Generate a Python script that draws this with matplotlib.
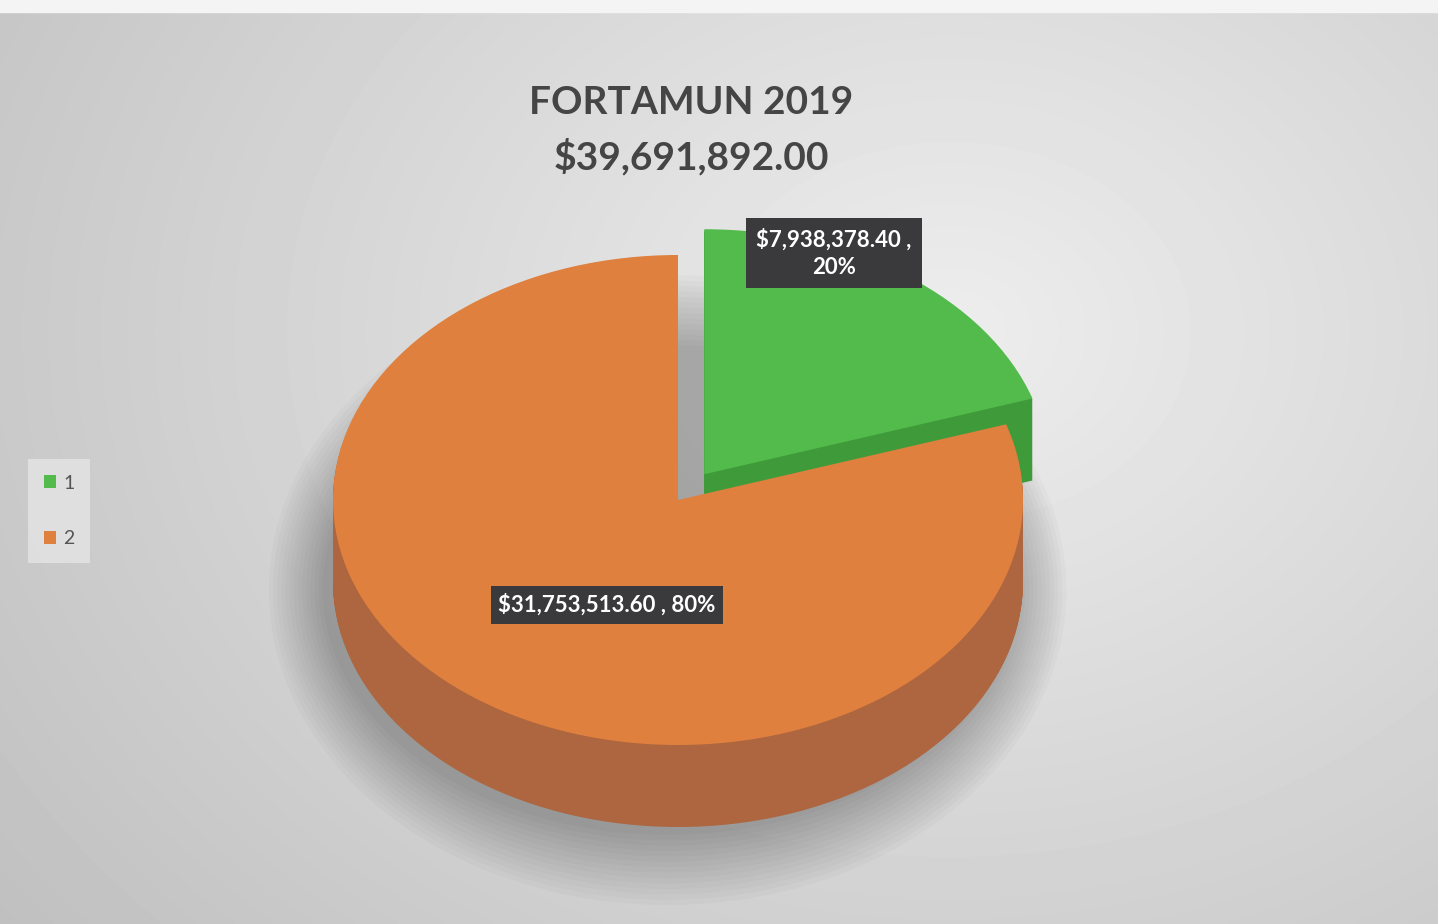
import numpy as np
import matplotlib.pyplot as plt
from matplotlib.patches import Ellipse

# ---- data ----
title_lines = ["FORTAMUN 2019", "$39,691,892.00"]
categories = ["1", "2"]
values = [7938378.40, 31753513.60]
value_labels = ["$7,938,378.40 ,\n20%", "$31,753,513.60 , 80%"]

top_colors = ["#52bb4c", "#df803e"]
side_colors = ["#3f9a3a", "#ad663f"]

plt.rcParams['font.family'] = ['Lato', 'DejaVu Sans']

W, H = 1438, 924
fig = plt.figure(figsize=(W / 100, H / 100), dpi=100)

# background axes in pixel coordinates
bg = fig.add_axes([0, 0, 1, 1])
yy, xx = np.mgrid[0:H:4, 0:W:4]
d = np.sqrt(((xx - 950) / 950.0) ** 2 + ((yy - 330) / 750.0) ** 2)
g = 0.93 - 0.14 * np.clip(d, 0, 1.3)
bg.imshow(g, cmap='gray', vmin=0, vmax=1, extent=[0, W, H, 0],
          aspect='auto', interpolation='bilinear')
bg.fill_between([0, W], 0, 12, color='#f4f4f4')
bg.set_xlim(0, W)
bg.set_ylim(H, 0)
bg.axis('off')

# pie axes: ellipse via non-equal aspect
cx, cy = 678, 500
rx, ry = 345, 245
depth = 82
pax = fig.add_axes([0, 0, 1, 1])
pax.patch.set_alpha(0)

# soft shadow
for i in range(14):
    e = Ellipse((-0.03, -(depth + 8) / ry), 2 * (1.0 + 0.012 * i), 2 * (1.0 + 0.022 * i),
                color='black', alpha=0.018, lw=0)
    pax.add_patch(e)

explode = [0.13, 0.0]
for k in range(depth, 0, -1):
    pax.pie(values, colors=side_colors, startangle=90, counterclock=False,
            explode=explode, center=(0, -k / ry), radius=1.0,
            wedgeprops=dict(linewidth=0))
wedges, _ = pax.pie(values, colors=top_colors, startangle=90, counterclock=False,
                    explode=explode, center=(0, 0), radius=1.0,
                    wedgeprops=dict(linewidth=0))
pax.set_aspect('auto')
pax.set_xlim((0 - cx) / rx, (W - cx) / rx)
pax.set_ylim((cy - H) / ry, cy / ry)
pax.axis('off')

# overlay axes for text
ov = fig.add_axes([0, 0, 1, 1])
ov.patch.set_alpha(0)
ov.set_xlim(0, W)
ov.set_ylim(H, 0)
ov.axis('off')

# title
ov.text(691, 102, title_lines[0], ha='center', va='center', fontsize=28,
        fontweight='bold', color='#454545')
ov.text(691, 157, title_lines[1], ha='center', va='center', fontsize=28,
        fontweight='bold', color='#454545')

# data labels
ov.text(834, 253, value_labels[0], ha='center', va='center', fontsize=16,
        fontweight='bold', color='white', linespacing=1.4,
        bbox=dict(boxstyle='square,pad=0.45', facecolor='#3a393b', edgecolor='none'))
ov.text(607, 605, value_labels[1], ha='center', va='center', fontsize=16,
        fontweight='bold', color='white',
        bbox=dict(boxstyle='square,pad=0.35', facecolor='#3a393b', edgecolor='none'))

# legend
leg = ov.legend(wedges, categories, loc='center left',
                bbox_to_anchor=(28 / W, 1 - 511 / H), borderaxespad=0, fontsize=14,
                labelcolor='#555555', facecolor='#e8e8e8', edgecolor='none',
                framealpha=0.7, fancybox=False, labelspacing=2.0,
                handlelength=0.65, handleheight=0.65, handletextpad=0.35,
                borderpad=0.8)

fig.savefig('out.png', dpi=100)
